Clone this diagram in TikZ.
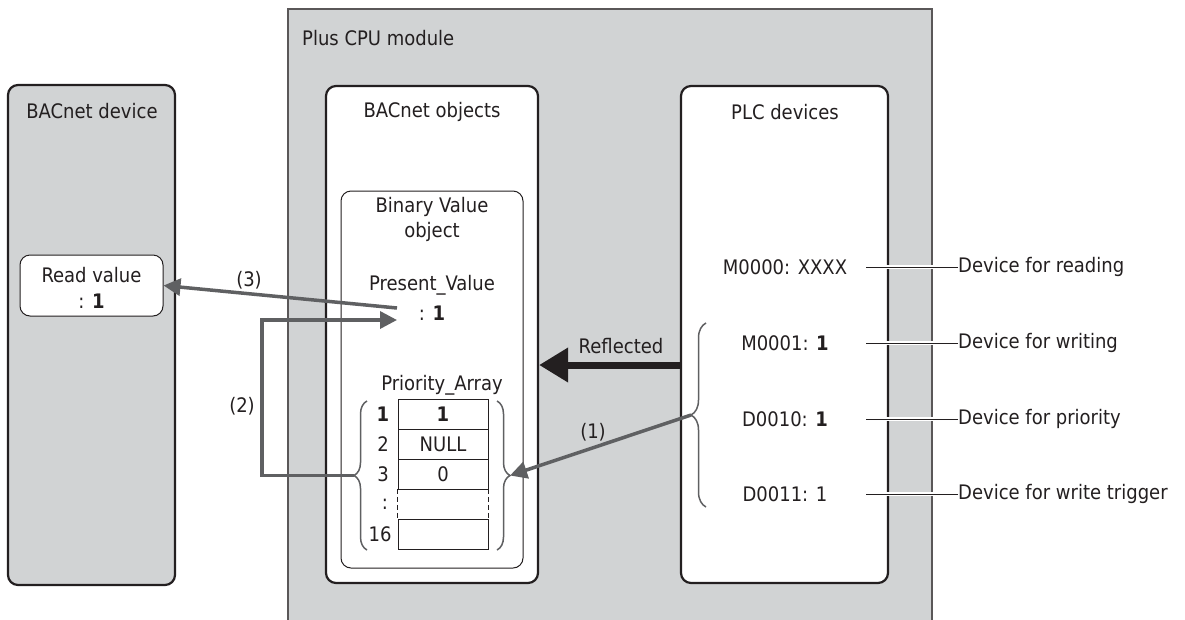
\documentclass[tikz,border=0pt]{standalone}
\usepackage{fontspec}
\setmainfont{DejaVu Sans Condensed}
\usetikzlibrary{arrows.meta,decorations.pathreplacing}
\definecolor{panel}{HTML}{D1D3D4}
\definecolor{ink}{HTML}{231F20}
\definecolor{arr}{HTML}{5F6062}
\begin{document}
\begin{tikzpicture}[x=1pt,y=-1pt,inner sep=0pt,
  font=\fontsize{20}{25}\selectfont, text=ink,
  box/.style={draw=ink, line width=2.2pt, rounded corners=10pt},
  thinbox/.style={draw=ink, line width=1pt, rounded corners=10pt, fill=white},
  cell/.style={draw=ink, line width=1pt, minimum width=90pt, minimum height=30pt},
  brc/.style={draw=arr, line width=1.5pt, decorate, decoration={brace, amplitude=13pt}},
  garrow/.style={draw=arr, line width=3.5pt, -{Triangle[length=17pt,width=17pt]}},
  refl/.style={draw=ink, line width=7pt, -{Triangle[length=29pt,width=33pt]}},
  leader/.style={draw=ink, line width=0.9pt, preaction={draw=white, line width=4pt}}]
\useasboundingbox (0,0) rectangle (1185,619);

% Plus CPU module
\node[draw=ink!75, line width=1.2pt, fill=panel, minimum width=644pt, minimum height=640pt] (cpu) at (610,329) {};
\node[anchor=west] (cput) at (302,38) {Plus CPU module};

% BACnet device
\node[box, fill=panel, minimum width=167pt, minimum height=500pt] (dev) at (91.5,335) {};
\node (devt) at (92,111) {BACnet device};
\node[thinbox, minimum width=143pt, minimum height=61pt] (rv) at (91.5,285.5) {};
\node (rvt) at (91.5,275) {Read value};
\node (rvv) at (91.5,301) {: \textbf{1}};

% BACnet objects
\node[box, fill=white, minimum width=212pt, minimum height=497pt] (obj) at (432,334.5) {};
\node (objt) at (432,112) {BACnet objects};
\node[thinbox, minimum width=182pt, minimum height=377pt] (bv) at (432,379.5) {};
\node (bvt) at (432,207) {Binary Value};
\node (bvt2) at (432,232) {object};
\node (pvt) at (432,285) {Present\_Value};
\node (pv) at (432,313) {: \textbf{1}};
\coordinate (pvin) at (397,320);
\coordinate (pvout) at (397,308);
\node (pat) at (442,385) {Priority\_Array};

% Priority array cells
\node[cell] (c1) at (443,414) {\textbf{1}};
\node[cell] (c2) at (443,444) {NULL};
\node[cell] (c3) at (443,474) {0};
\node[minimum width=90pt, minimum height=30pt] (c4) at (443,504) {};
\node[cell] (c16) at (443,534) {};
\draw[ink, line width=1pt, dash pattern=on 5pt off 3pt] (c4.north west) -- (c4.south west) (c4.north east) -- (c4.south east);
\node (r1) at (383,414) {\textbf{1}};
\node (r2) at (383,444) {2};
\node (r3) at (383,474) {3};
\node (r4) at (385,504) {:};
\node (r16) at (380,534) {16};

% braces
\draw[brc] (367,550) -- (367,401);
\draw[brc] (497,401) -- (497,550);
\coordinate (lbt) at (354,475.5);
\coordinate (rbt) at (510,475.5);

% PLC devices
\node[box, fill=white, minimum width=207pt, minimum height=497pt] (plc) at (784.5,334.5) {};
\node (plct) at (785,112) {PLC devices};
\node (m0) at (785,267) {M0000: XXXX};
\node (m1) at (785,343) {M0001: \textbf{1}};
\node (d10) at (785,419) {D0010: \textbf{1}};
\node (d11) at (785,494) {D0011: 1};
\draw[brc, decoration={brace, amplitude=15pt}] (706,507) -- (706,323);
\coordinate (pbt) at (691,415);

% side labels
\node[anchor=west] (l0) at (958,267) {Device for reading};
\node[anchor=west] (l1) at (958,343) {Device for writing};
\node[anchor=west] (l2) at (958,419) {Device for priority};
\node[anchor=west] (l3) at (958,494) {Device for write trigger};
\draw[leader] (l0.west) -- ++(-92,0);
\draw[leader] (l1.west) -- ++(-92,0);
\draw[leader] (l2.west) -- ++(-92,0);
\draw[leader] (l3.west) -- ++(-92,0);

% arrows
\draw[refl] (plc.west |- 0,365) -- (obj.east |- 0,365);
\node (reft) at (621,346) {Reflected};
\draw[garrow] (pbt) -- (rbt);
\node (a1) at (593,432) {(1)};
\draw[garrow] (lbt) -- (262,475.5) |- (pvin);
\node (a2) at (242,406) {(2)};
\draw[garrow] (pvout) -- (rv.east);
\node (a3) at (249,280) {(3)};
\end{tikzpicture}
\end{document}
